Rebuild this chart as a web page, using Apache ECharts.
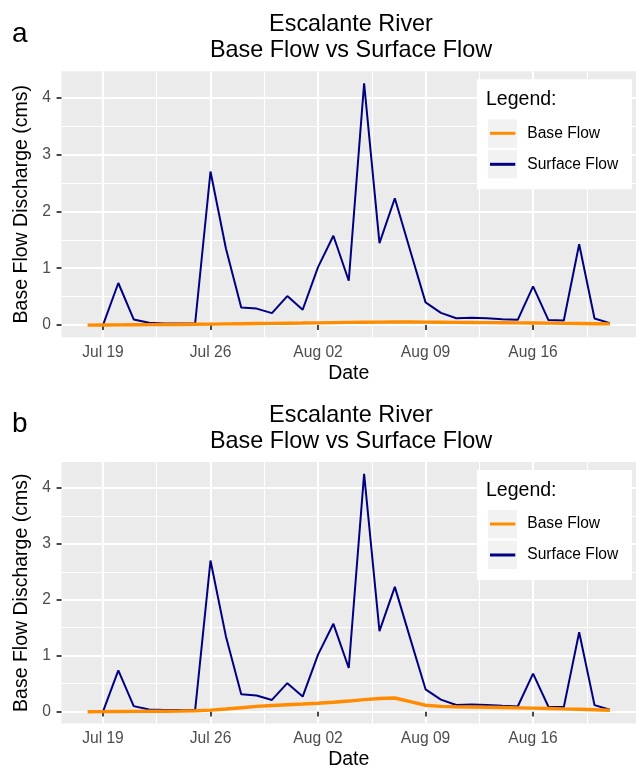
<!DOCTYPE html>
<html><head><meta charset="utf-8">
<script src="https://cdn.jsdelivr.net/npm/echarts@6/dist/echarts.min.js"></script>
<style>html,body{margin:0;padding:0;background:#fff}#c{width:636px;height:771px}</style>
</head><body><div id="c"></div>
<script>
// ---- data ----
const dates = ['2021-07-18','2021-07-19','2021-07-20','2021-07-21','2021-07-22','2021-07-23','2021-07-24','2021-07-25','2021-07-26','2021-07-27','2021-07-28','2021-07-29','2021-07-30','2021-07-31',
  '2021-08-01','2021-08-02','2021-08-03','2021-08-04','2021-08-05','2021-08-06','2021-08-07','2021-08-08','2021-08-09','2021-08-10','2021-08-11','2021-08-12','2021-08-13','2021-08-14','2021-08-15','2021-08-16','2021-08-17','2021-08-18','2021-08-19','2021-08-20','2021-08-21'];
const surfaceFlow = [null,0.00,0.74,0.10,0.04,0.03,0.03,0.03,2.70,1.35,0.31,0.29,0.21,0.51,
  0.27,1.02,1.57,0.78,4.25,1.44,2.23,1.31,0.40,0.215,0.12,0.13,0.12,0.105,0.093,0.68,0.088,0.082,1.42,0.117,0.035];
const baseFlowA = [0.000,0.002,0.004,0.006,0.008,0.010,0.012,0.015,0.018,0.021,0.024,0.027,0.030,0.033,
  0.036,0.040,0.044,0.048,0.051,0.053,0.055,0.054,0.052,0.050,0.048,0.046,0.044,0.042,0.040,0.037,0.034,0.031,0.028,0.025,0.022];
const baseFlowB = [0.000,0.001,0.003,0.005,0.007,0.009,0.012,0.017,0.028,0.048,0.070,0.095,0.110,0.125,
  0.138,0.152,0.170,0.190,0.215,0.235,0.245,0.180,0.115,0.095,0.089,0.084,0.079,0.074,0.069,0.064,0.058,0.050,0.043,0.035,0.027];
const xTickDates = ['2021-07-19','2021-07-26','2021-08-02','2021-08-09','2021-08-16'];
const xMinorDates = ['2021-07-22T12:00:00Z','2021-07-29T12:00:00Z','2021-08-05T12:00:00Z','2021-08-12T12:00:00Z','2021-08-19T12:00:00Z'];
const yTicks = [0,1,2,3,4];
const yMinor = [0.5,1.5,2.5,3.5];
const panelLabels = ['a','b'];
const titleText = 'Escalante River\nBase Flow vs Surface Flow';

// ---- helpers ----
const DAY = 86400000;
const FONT = "'Liberation Sans', Arial, Helvetica, sans-serif";
const MONTHS = ['Jan','Feb','Mar','Apr','May','Jun','Jul','Aug','Sep','Oct','Nov','Dec'];
const t = s => Date.parse(s);
const xMin = t(dates[0]) - 1.7*DAY;
const xMax = t(dates[dates.length-1]) + 1.7*DAY;
const yMin = -0.2125, yMax = 4.4625;
const fmtDate = v => { const d = new Date(v); return MONTHS[d.getUTCMonth()] + ' ' + String(d.getUTCDate()).padStart(2,'0'); };
const pair = arr => dates.map((d,i) => [t(d), arr[i]]);

const OFF = 390.7;
const panels = [0, 1];
const grids = panels.map(p => ({
  left: 61.5, top: 71.2 + p*OFF, width: 579, height: 266,
  show: true, backgroundColor: '#EBEBEB', borderWidth: 0, containLabel: false
}));

const xAxes = [], yAxes = [];
panels.forEach(p => {
  xAxes.push({
    type: 'value', gridIndex: p, min: xMin, max: xMax,
    name: 'Date', nameLocation: 'middle', nameGap: 26.4,
    nameTextStyle: {fontSize: 19.5, color: '#000', fontFamily: FONT, lineHeight: 20},
    axisLine: {show: false},
    axisTick: {show: true, length: 4.9, lineStyle: {color: '#333333', width: 1.8}, customValues: xTickDates.map(t)},
    axisLabel: {show: true, margin: 7.4, fontSize: 15.6, color: '#4D4D4D', fontFamily: FONT, lineHeight: 16,
      customValues: xTickDates.map(t), formatter: fmtDate},
    splitLine: {show: true, lineStyle: {color: '#FFFFFF', width: 2.2}}
  });
  xAxes.push({
    type: 'value', gridIndex: p, min: xMin, max: xMax, position: 'top',
    axisLine: {show: false}, axisLabel: {show: false},
    axisTick: {show: false, customValues: xMinorDates.map(t)},
    splitLine: {show: true, lineStyle: {color: '#FFFFFF', width: 1.1}}
  });
  yAxes.push({
    type: 'value', gridIndex: p, min: yMin, max: yMax,
    name: 'Base Flow Discharge (cms)', nameLocation: 'middle', nameGap: 27.7,
    nameTextStyle: {fontSize: 19.5, color: '#000', fontFamily: FONT, lineHeight: 20},
    axisLine: {show: false},
    axisTick: {show: true, length: 4.9, lineStyle: {color: '#333333', width: 1.8}, customValues: yTicks},
    axisLabel: {show: true, margin: 10.5, fontSize: 15.6, color: '#4D4D4D', fontFamily: FONT, customValues: yTicks,
      formatter: v => String(Math.round(v))},
    splitLine: {show: true, lineStyle: {color: '#FFFFFF', width: 2.2}}
  });
  yAxes.push({
    type: 'value', gridIndex: p, min: yMin, max: yMax, position: 'right',
    axisLine: {show: false}, axisLabel: {show: false},
    axisTick: {show: false, customValues: yMinor},
    splitLine: {show: true, lineStyle: {color: '#FFFFFF', width: 1.1}}
  });
});

const series = [];
[baseFlowA, baseFlowB].forEach((bf, p) => {
  series.push({
    name: 'Base Flow', type: 'line', xAxisIndex: 2*p, yAxisIndex: 2*p,
    data: pair(bf), showSymbol: false, symbol: 'none', color: '#FF8C00',
    lineStyle: {color: '#FF8C00', width: 3.4}, z: 3, animation: false
  });
  series.push({
    name: 'Surface Flow', type: 'line', xAxisIndex: 2*p, yAxisIndex: 2*p,
    data: pair(surfaceFlow), showSymbol: false, symbol: 'none', color: '#000080', connectNulls: false,
    lineStyle: {color: '#000080', width: 2.0}, z: 2, animation: false
  });
});

const titles = panels.map(p => ({
  text: titleText, left: 351, top: 11.8 + p*OFF, textAlign: 'center', padding: 0,
  textStyle: {fontSize: 23.4, lineHeight: 26, fontWeight: 'normal', color: '#000', fontFamily: FONT}
}));

const legends = panels.map(p => ({
  orient: 'vertical', left: 490, top: 117.8 + p*OFF, itemWidth: 25.3, itemHeight: 3, itemGap: 0,
  icon: 'rect', selectedMode: false, padding: 0, z: 6,
  data: ['Base Flow', 'Surface Flow'],
  textStyle: {fontSize: 15.6, lineHeight: 31, color: '#000', fontFamily: FONT, padding: [0,0,0,7]}
}));

const graphics = [];
panels.forEach(p => {
  const o = p*OFF;
  graphics.push({type: 'rect', z: 4, shape: {x: 477, y: 79.3 + o, width: 155, height: 110}, style: {fill: '#FFFFFF'}});
  graphics.push({type: 'rect', z: 5, shape: {x: 488, y: 119.3 + o, width: 29, height: 28.5}, style: {fill: '#F2F2F2'}});
  graphics.push({type: 'rect', z: 5, shape: {x: 488, y: 150 + o, width: 29, height: 28.5}, style: {fill: '#F2F2F2'}});
  graphics.push({type: 'text', z: 6, x: 486, y: 99.7 + o, style: {text: 'Legend:', fontSize: 19.5, fontFamily: FONT, fill: '#000', verticalAlign: 'middle', align: 'left'}});
  graphics.push({type: 'text', z: 6, x: 12, y: 34 + o, style: {text: panelLabels[p], fontSize: 28, fontFamily: FONT, fill: '#000', verticalAlign: 'middle', align: 'left'}});
});

const chart = echarts.init(document.getElementById('c'), null, {renderer: 'canvas', width: 636, height: 771});
chart.setOption({
  backgroundColor: '#FFFFFF',
  animation: false,
  title: titles,
  legend: legends,
  grid: grids,
  xAxis: xAxes,
  yAxis: yAxes,
  series: series,
  graphic: graphics
});
</script>
</body></html>
